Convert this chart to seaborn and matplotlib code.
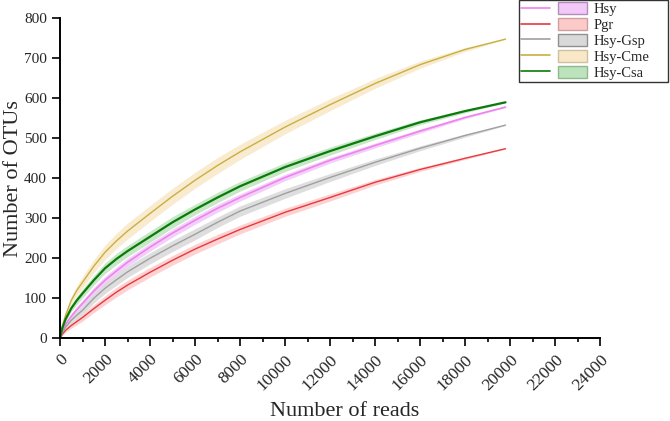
import numpy as np
import pandas as pd
import seaborn as sns
import matplotlib
matplotlib.use("Agg")
import matplotlib.pyplot as plt
from matplotlib.lines import Line2D
from matplotlib.patches import Patch
from matplotlib.legend_handler import HandlerTuple
from matplotlib.ticker import MultipleLocator

# rarefaction values
reads = [0, 100, 250, 500, 750, 1000, 1500, 2000, 2500, 3000, 4000, 5000, 6000, 7000,
         8000, 10000, 12000, 14000, 16000, 18000, 19800]
groups = ['Hsy', 'Pgr', 'Hsy-Gsp', 'Hsy-Cme', 'Hsy-Csa']

hsy = [0, 18, 35, 55, 72, 87, 118, 145, 168, 190, 228, 263, 295, 325, 352, 402, 445, 482, 518, 552, 578]
pgr = [0, 10, 20, 32, 42, 52, 74, 95, 115, 133, 165, 195, 223, 248, 272, 315, 352, 390, 422, 450, 474]
hsy_gsp = [0, 14, 28, 45, 58, 70, 100, 125, 146, 166, 200, 231, 260, 290, 318, 362, 402, 440, 475, 507, 533]
hsy_cme = [0, 30, 58, 95, 120, 140, 180, 215, 243, 268, 312, 355, 395, 432, 466, 528, 584, 637, 684, 722, 748]
hsy_csa = [0, 25, 48, 75, 95, 112, 145, 175, 198, 218, 254, 290, 322, 352, 380, 428, 468, 505, 540, 568, 590]

# half width of the shaded band
hsy_sd = [0, 3, 4, 6, 7, 8, 9, 10, 10, 10, 10, 10, 10, 10, 9, 8, 7, 6, 5, 3, 1]
pgr_sd = [0, 3, 5, 7, 8, 9, 10, 11, 12, 12, 12, 12, 12, 12, 11, 10, 9, 7, 5, 3, 1]
hsy_gsp_sd = [0, 3, 6, 8, 10, 11, 12, 13, 14, 14, 14, 14, 14, 13, 13, 12, 10, 8, 6, 4, 1]
hsy_cme_sd = [0, 4, 7, 10, 12, 14, 16, 18, 19, 20, 20, 20, 20, 20, 19, 17, 15, 12, 9, 5, 1]
hsy_csa_sd = [0, 3, 6, 8, 10, 11, 12, 13, 14, 14, 14, 14, 13, 13, 12, 11, 10, 8, 6, 4, 1]

line_colors = ['#EE82EE', '#E8383D', '#A0A0A0', '#C8B040', '#0A7A0A']
fill_colors = ['#F2C8F8', '#FDCACA', '#D9D9D9', '#F8E8C8', '#BDE3BD']
edge_colors = ['#B090B8', '#D0A0A0', '#909090', '#D0C0A0', '#90B890']
widths = [1.2, 1.0, 1.0, 1.0, 1.6]

means = [hsy, pgr, hsy_gsp, hsy_cme, hsy_csa]
sds = [hsy_sd, pgr_sd, hsy_gsp_sd, hsy_cme_sd, hsy_csa_sd]

df = pd.concat([pd.DataFrame({'reads': reads, 'otus': m, 'sd': s, 'group': g})
                for g, m, s in zip(groups, means, sds)], ignore_index=True)

sns.set_style('ticks')
plt.rcParams['font.family'] = ['Liberation Serif', 'DejaVu Serif']

fig = plt.figure(figsize=(6.7, 4.21), dpi=100)
ax = fig.add_axes([60 / 670, 1 - 338.3 / 421, 540 / 670, 320 / 421])

for g, fc in zip(groups, fill_colors):
    d = df[df['group'] == g]
    ax.fill_between(d['reads'], d['otus'] - d['sd'], d['otus'] + d['sd'],
                    color=fc, alpha=0.85, linewidth=0)

for g, lc, lw in zip(groups, line_colors, widths):
    d = df[df['group'] == g]
    sns.lineplot(data=d, x='reads', y='otus', color=lc, linewidth=lw, ax=ax, legend=False)

ax.set_xlim(0, 24000)
ax.set_ylim(0, 800)
ax.xaxis.set_major_locator(MultipleLocator(2000))
ax.xaxis.set_minor_locator(MultipleLocator(1000))
ax.yaxis.set_major_locator(MultipleLocator(100))
ax.tick_params(axis='both', which='major', direction='out', length=6, width=1.2, color='black')
ax.tick_params(axis='y', labelsize=11)
ax.tick_params(axis='x', labelsize=12.5)
ax.tick_params(axis='x', which='minor', direction='out', length=3, width=1.2, color='black')
plt.setp(ax.get_xticklabels(), rotation=45, ha='right', rotation_mode='anchor')
for sp in ['left', 'bottom']:
    ax.spines[sp].set_linewidth(1.4)
    ax.spines[sp].set_color('black')
sns.despine(ax=ax)

ax.set_xlabel('Number of reads', fontsize=16)
ax.set_ylabel('Number of OTUs', fontsize=16)
ax.xaxis.set_label_coords(0.528, -0.198)
ax.yaxis.set_label_coords(-0.068, 0.5)

handles = [(Line2D([], [], color=lc, linewidth=1.2),
            Patch(facecolor=fc, edgecolor=ec, linewidth=1.0))
           for lc, fc, ec in zip(line_colors, fill_colors, edge_colors)]
leg = fig.legend(handles, groups, loc='upper left',
                 bbox_to_anchor=(519 / 670, 1 - 82 / 421, 149 / 670, 82 / 421),
                 mode='expand',
                 handler_map={tuple: HandlerTuple(ndivide=None, pad=0.55)},
                 handlelength=4.5, handleheight=0.9, fontsize=10.5, frameon=True,
                 fancybox=False, borderaxespad=0, labelspacing=0.12,
                 borderpad=0.15, handletextpad=0.5)
leg.get_frame().set_edgecolor('black')
leg.get_frame().set_linewidth(1.0)

fig.savefig('out.png', dpi=100)
